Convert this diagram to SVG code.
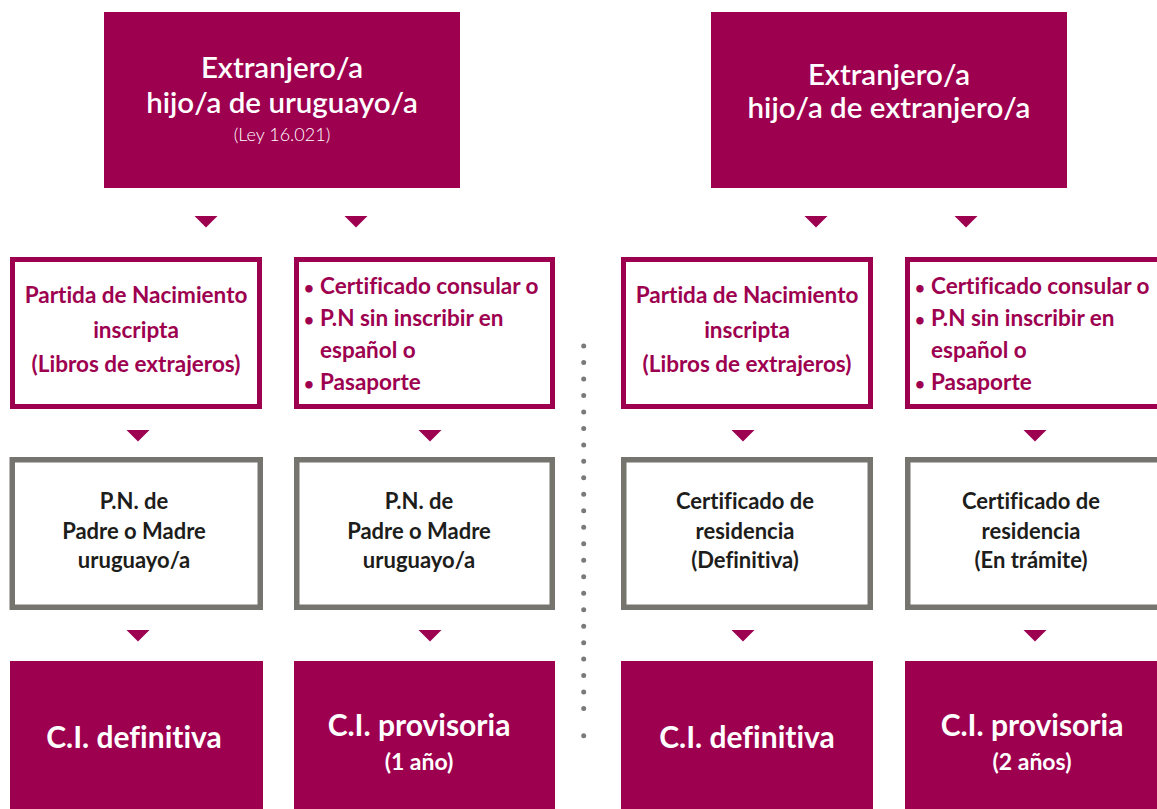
<svg xmlns="http://www.w3.org/2000/svg" width="1157" height="809" viewBox="0 0 1157 809">
<style>
text{font-family:Lato,"Open Sans","Liberation Sans",sans-serif;text-anchor:middle;font-variant-ligatures:none;font-feature-settings:"liga" 0}
.fill{fill:#9e0050}
.mag{fill:#fff;stroke:#9e0050;stroke-width:5}
.grey{fill:#fff;stroke:#75746e;stroke-width:5.5}
.title{fill:#fff;font-size:29.5px;font-weight:600}
.sub{fill:#fff;font-size:18px;font-weight:300}
.mt{fill:#9e0050;font-size:22.5px;font-weight:700}
.gt{fill:#1d1d1b;font-size:22px;font-weight:700}
.bt{fill:#fff;font-size:30px;font-weight:700}
.bs{fill:#fff;font-size:23px;font-weight:700}
.lt{text-anchor:start}
.bul{font-size:17px}
.arr{fill:#9e0050}
</style>
<defs>
<path id="tri" d="M-11.5,0 L11.5,0 L0,11.5 Z"/>
</defs>

<g id="connectors">
<use href="#tri" class="arr" x="206" y="216"/>
<use href="#tri" class="arr" x="356" y="216"/>
<use href="#tri" class="arr" x="816" y="216"/>
<use href="#tri" class="arr" x="966" y="216"/>
<use href="#tri" class="arr" x="138" y="430"/>
<use href="#tri" class="arr" x="430" y="430"/>
<use href="#tri" class="arr" x="743" y="430"/>
<use href="#tri" class="arr" x="1035" y="430"/>
<use href="#tri" class="arr" x="138" y="630"/>
<use href="#tri" class="arr" x="430" y="630"/>
<use href="#tri" class="arr" x="743" y="630"/>
<use href="#tri" class="arr" x="1035" y="630"/>
</g>

<g id="separator">
<line x1="583.7" y1="346" x2="583.7" y2="725" stroke="#7a7a7a" stroke-width="5" stroke-linecap="round" stroke-dasharray="0 16.48"/>
<circle cx="583.7" cy="735.7" r="2.5" fill="#7a7a7a"/>
</g>

<g id="top-left">
<rect class="fill" x="104" y="12" width="356" height="176"/>
<text class="title" x="282" y="78">Extranjero/a</text>
<text class="title" x="282" y="113">hijo/a de uruguayo/a</text>
<text class="sub" x="282" y="141">(Ley 16.021)</text>
</g>

<g id="top-right">
<rect class="fill" x="711" y="12" width="356" height="176"/>
<text class="title" x="889" y="85">Extranjero/a</text>
<text class="title" x="889" y="118">hijo/a de extranjero/a</text>
</g>

<g id="doc-1">
<rect class="mag" x="12.5" y="259.5" width="247" height="147"/>
<text class="mt" x="136" y="303">Partida de Nacimiento</text>
<text class="mt" x="136" y="338">inscripta</text>
<text class="mt" x="136" y="372">(Libros de extrajeros)</text>
</g>

<g id="doc-2">
<rect class="mag" x="296.5" y="259.5" width="256" height="147"/>
<text class="mt lt" x="304" y="294"><tspan class="bul">•</tspan><tspan x="320">Certificado consular o</tspan></text>
<text class="mt lt" x="304" y="326"><tspan class="bul">•</tspan><tspan x="320">P.N sin inscribir en</tspan></text>
<text class="mt lt" x="320" y="358">español o</text>
<text class="mt lt" x="304" y="390"><tspan class="bul">•</tspan><tspan x="320">Pasaporte</tspan></text>
</g>

<g id="doc-3">
<rect class="mag" x="623.5" y="259.5" width="247" height="147"/>
<text class="mt" x="747" y="303">Partida de Nacimiento</text>
<text class="mt" x="747" y="338">inscripta</text>
<text class="mt" x="747" y="372">(Libros de extrajeros)</text>
</g>

<g id="doc-4">
<rect class="mag" x="907.5" y="259.5" width="260" height="147"/>
<text class="mt lt" x="915" y="294"><tspan class="bul">•</tspan><tspan x="931">Certificado consular o</tspan></text>
<text class="mt lt" x="915" y="326"><tspan class="bul">•</tspan><tspan x="931">P.N sin inscribir en</tspan></text>
<text class="mt lt" x="931" y="358">español o</text>
<text class="mt lt" x="915" y="390"><tspan class="bul">•</tspan><tspan x="931">Pasaporte</tspan></text>
</g>

<g id="req-1">
<rect class="grey" x="12.25" y="459.75" width="248" height="147.5"/>
<text class="gt" x="134" y="509">P.N. de</text>
<text class="gt" x="134" y="539">Padre o Madre</text>
<text class="gt" x="134" y="568">uruguayo/a</text>
</g>

<g id="req-2">
<rect class="grey" x="296.75" y="459.75" width="255.5" height="147.5"/>
<text class="gt" x="419" y="509">P.N. de</text>
<text class="gt" x="419" y="539">Padre o Madre</text>
<text class="gt" x="419" y="568">uruguayo/a</text>
</g>

<g id="req-3">
<rect class="grey" x="623.75" y="459.75" width="246.5" height="147.5"/>
<text class="gt" x="745" y="509">Certificado de</text>
<text class="gt" x="745" y="539">residencia</text>
<text class="gt" x="745" y="568">(Definitiva)</text>
</g>

<g id="req-4">
<rect class="grey" x="907.75" y="459.75" width="260" height="147.5"/>
<text class="gt" x="1031" y="509">Certificado de</text>
<text class="gt" x="1031" y="539">residencia</text>
<text class="gt" x="1031" y="568">(En trámite)</text>
</g>

<g id="ci-1">
<rect class="fill" x="10" y="661" width="253" height="150"/>
<text class="bt" x="134" y="748">C.I. definitiva</text>
</g>

<g id="ci-2">
<rect class="fill" x="294" y="661" width="261" height="150"/>
<text class="bt" x="419" y="736">C.I. provisoria</text>
<text class="bs" x="419" y="770">(1 año)</text>
</g>

<g id="ci-3">
<rect class="fill" x="621" y="661" width="252" height="150"/>
<text class="bt" x="747" y="748">C.I. definitiva</text>
</g>

<g id="ci-4">
<rect class="fill" x="905" y="661" width="260" height="150"/>
<text class="bt" x="1032" y="736">C.I. provisoria</text>
<text class="bs" x="1032" y="770">(2 años)</text>
</g>
</svg>
